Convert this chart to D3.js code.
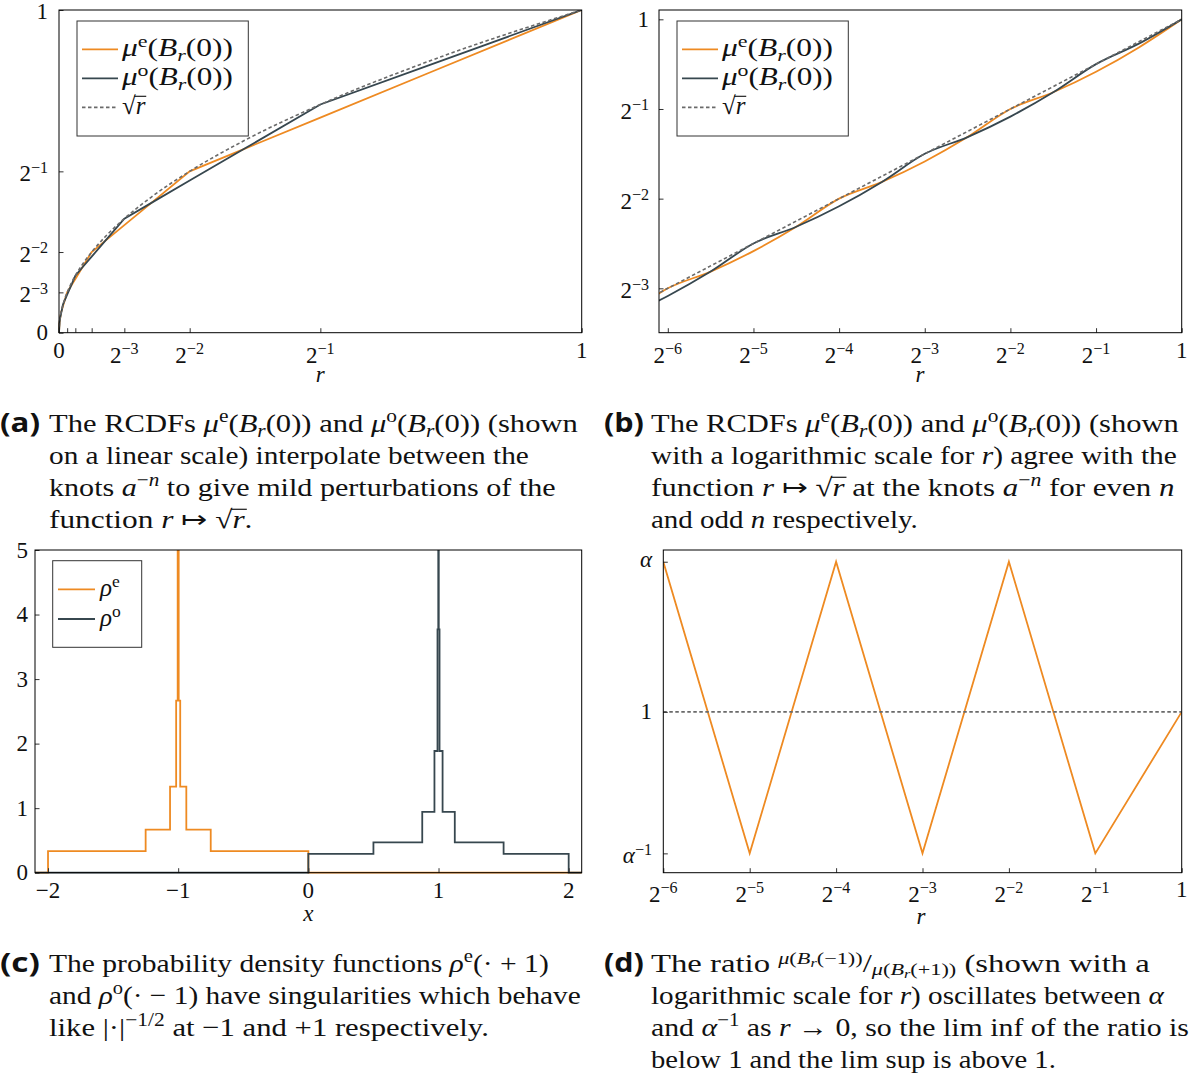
<!DOCTYPE html>
<html><head><meta charset="utf-8">
<script src="https://cdn.jsdelivr.net/npm/d3@7"></script>
<style>body{margin:0;background:#fff;}svg{display:block;}</style>
</head><body>
<svg id="fig" width="1199" height="1079"></svg>
<script>
// ---------------- DATA ----------------
const rSamples = [1, 0.707107, 0.5, 0.353553, 0.25, 0.176777, 0.125, 0.088388, 0.0625, 0.044194, 0.03125, 0.022097, 0.015625, 0.011049, 0.0078125, 0.0055243, 0.00390625, 0.001953, 0.0009766, 0];
const muE   = [1, 0.80474, 0.66667, 0.56904, 0.5, 0.40237, 0.33333, 0.28452, 0.25, 0.20118, 0.16667, 0.14226, 0.125, 0.10059, 0.083333, 0.07113, 0.0625, 0.041667, 0.03125, 0];
const muO   = [1, 0.82843, 0.70711, 0.56904, 0.47140, 0.40237, 0.35355, 0.28452, 0.23570, 0.20118, 0.17678, 0.14226, 0.11785, 0.10059, 0.088388, 0.07113, 0.058218, 0.044194, 0.029463, 0];
const sqrtR = [1, 0.840896, 0.707107, 0.594604, 0.5, 0.420448, 0.353553, 0.297302, 0.25, 0.210224, 0.176777, 0.148651, 0.125, 0.105112, 0.088388, 0.074325, 0.0625, 0.044194, 0.03125, 0];

const rhoEx = [-2.1, -2, -1.25, -1.0625, -1.015625, -1.00390625, -0.99609375, -0.984375, -0.9375, -0.75, 0, 2.1];
const rhoEy = [0, 0.33333, 0.66667, 1.33333, 2.66667, 5.33333, 2.66667, 1.33333, 0.66667, 0.33333, 0, 0];
const rhoOx = [-2.1, 0, 0.5, 0.875, 0.96875, 0.9921875, 0.998046875, 1.001953125, 1.0078125, 1.03125, 1.125, 1.5, 2, 2.1];
const rhoOy = [0, 0.29289, 0.47140, 0.94281, 1.88562, 3.77124, 7.54247, 3.77124, 1.88562, 0.94281, 0.47140, 0.29289, 0, 0];

const ratioR = [0.015625, 0.03125, 0.0625, 0.125, 0.25, 0.5, 1];
const ratioV = [1.06066, 0.94281, 1.06066, 0.94281, 1.06066, 0.94281, 1];
const ratioRef = 1;

const aXTicks = [0, 0.125, 0.25, 0.5, 1];
const aXLabels = [['0'], ['2','−3'], ['2','−2'], ['2','−1'], ['1']];
const aXMinor = [0.015625, 0.03125, 0.0625];
const aYTicks = [0, 0.125, 0.25, 0.5, 1];
const aYLabels = [['0'], ['2','−3'], ['2','−2'], ['2','−1'], ['1']];
const bXTicks = [0.015625, 0.03125, 0.0625, 0.125, 0.25, 0.5, 1];
const bXLabels = [['2','−6'], ['2','−5'], ['2','−4'], ['2','−3'], ['2','−2'], ['2','−1'], ['1']];
const bYTicks = [0.125, 0.25, 0.5, 1];
const bYLabels = [['2','−3'], ['2','−2'], ['2','−1'], ['1']];
const cXTicks = [-2, -1, 0, 1, 2];
const cXLabels = [['−2'], ['−1'], ['0'], ['1'], ['2']];
const cYTicks = [0, 1, 2, 3, 4, 5];
const cYLabels = [['0'], ['1'], ['2'], ['3'], ['4'], ['5']];
const dXTicks = bXTicks;
const dXLabels = bXLabels;
const dYTicks = [0.94281, 1, 1.06066];
const dYLabels = [['α','−1',true], ['1'], ['α',null,true]];

// ---------------- STYLE ----------------
const SERIF = "Liberation Serif, Times New Roman, serif";
const SANS = "Open Sans, DejaVu Sans, sans-serif";
const ORANGE = '#EE8A22', SLATE = '#37474F', GREY = '#6a6a6a', INK = '#111';
const LW = 1.8, TICKFS = 23, LEGFS = 25, CAPFS = 26;

const svg = d3.select('#fig');
const defs = svg.append('defs');

function addClip(name, x, y, pad) {
  const [x0, x1] = x.range(); const [y1, y0] = y.range();
  defs.append('clipPath').attr('id', name).append('rect')
    .attr('x', x0 - pad).attr('y', y0).attr('width', x1 - x0 + 2 * pad).attr('height', y1 - y0 + pad);
  return `url(#${name})`;
}

function rich(parent, x, y, parts, fs, opts = {}) {
  const g = parent.append('g');
  const t = g.append('text').attr('x', x).attr('y', y)
    .attr('font-family', opts.family || SERIF).attr('font-size', fs)
    .attr('fill', opts.fill || INK).style('white-space', 'pre');
  if (opts.weight) t.attr('font-weight', opts.weight);
  let cur = 0; const over = [];
  for (const p of parts) {
    const s = Array.isArray(p) ? p[0] : p;
    const f = Array.isArray(p) ? (p[1] || '') : '';
    let off = 0, size = fs;
    if (f.includes('^')) { off = -0.38 * fs; size = 0.7 * fs; }
    else if (f.includes('_')) { off = 0.2 * fs; size = 0.7 * fs; }
    else if (f.includes('N')) { off = -0.3 * fs; size = 0.68 * fs; }
    else if (f.includes('M')) { off = -0.18 * fs; size = 0.5 * fs; }
    else if (f.includes('D')) { off = 0.12 * fs; size = 0.68 * fs; }
    else if (f.includes('E')) { off = 0.24 * fs; size = 0.5 * fs; }
    const ts = t.append('tspan').attr('font-size', size).attr('dy', off - cur).text(s);
    cur = off;
    if (f.includes('i')) ts.attr('font-style', 'italic');
    if (f.includes('o')) over.push(ts);
  }
  const len = t.node().getComputedTextLength();
  let shift = 0;
  if (opts.anchor === 'middle') shift = -len / 2;
  else if (opts.anchor === 'end') shift = -len;
  const sx = opts.width ? opts.width / len : (opts.sx || 1);
  over.forEach(ts => {
    let bb; try { bb = ts.node().getBBox(); } catch (e) { bb = null; }
    if (bb) g.append('line').attr('x1', bb.x - 1.5).attr('x2', bb.x + bb.width + 0.5)
      .attr('y1', y - 0.72 * fs).attr('y2', y - 0.72 * fs).attr('stroke', INK).attr('stroke-width', 0.045 * fs);
  });
  g.attr('transform', `translate(${x + shift * sx},0) scale(${sx},1) translate(${-x},0)`);
  return { g, len };
}

function tickLabel(parent, x, y, spec, anchor) {
  const parts = [[spec[0], spec[2] ? 'i' : '']];
  if (spec[1]) parts.push([spec[1], '^']);
  return rich(parent, x, y, parts, TICKFS, { anchor });
}

function axesFrame(g, x, y, xt, yt, xMinor) {
  const [x0, x1] = x.range(); const [y1, y0] = y.range();
  const style = s => { s.select('.domain').remove(); s.selectAll('line').attr('stroke', '#333').attr('stroke-width', 1); };
  g.append('g').attr('transform', `translate(0,${y1})`)
    .call(d3.axisBottom(x).tickValues(xt.concat(xMinor || [])).tickSize(-4.5).tickFormat(() => '')).call(style);
  g.append('g').attr('transform', `translate(${x0},0)`)
    .call(d3.axisLeft(y).tickValues(yt).tickSize(-4.5).tickFormat(() => '')).call(style);
  g.append('rect').attr('x', x0).attr('y', y0).attr('width', x1 - x0).attr('height', y1 - y0)
    .attr('fill', 'none').attr('stroke', '#000').attr('stroke-width', 1);
}

function legend(g, box, rows, lx0, lx1, tx, fs) {
  g.append('rect').attr('x', box[0]).attr('y', box[1]).attr('width', box[2] - box[0]).attr('height', box[3] - box[1])
    .attr('fill', '#fff').attr('stroke', '#333').attr('stroke-width', 1);
  rows.forEach(rw => {
    const l = g.append('line').attr('x1', lx0).attr('x2', lx1).attr('y1', rw.y).attr('y2', rw.y)
      .attr('stroke', rw.color).attr('stroke-width', LW);
    if (rw.dash) l.attr('stroke-dasharray', rw.dash);
    rich(g, tx, rw.y + 7, rw.parts, fs, rw.w ? { width: rw.w } : {});
  });
}

const muEtxt = [['μ', 'i'], ['e', '^'], '(', ['B', 'i'], ['r', 'i_'], '(0))'];
const muOtxt = [['μ', 'i'], ['o', '^'], '(', ['B', 'i'], ['r', 'i_'], '(0))'];
const sqrtTxt = ['√', ['r', 'io']];
const DASH = '3.5,2.5';

// ---------------- PANEL A ----------------
{
  const x = d3.scaleLinear().domain([0, 1]).range([59, 581.7]);
  const y = d3.scaleLinear().domain([0, 1]).range([332.7, 10]);
  const g = svg.append('g');
  const clip = addClip('clipA', x, y, 2);
  const pts = rSamples.map((r, i) => ({ r, e: muE[i], o: muO[i], s: sqrtR[i] })).sort((a, b) => a.r - b.r);
  const lg = g.append('g').attr('clip-path', clip);
  lg.append('path').datum(pts).attr('d', d3.line().x(d => x(d.r)).y(d => y(d.e))).attr('fill', 'none').attr('stroke', ORANGE).attr('stroke-width', LW);
  lg.append('path').datum(pts).attr('d', d3.line().x(d => x(d.r)).y(d => y(d.o))).attr('fill', 'none').attr('stroke', SLATE).attr('stroke-width', LW);
  lg.append('path').datum(pts).attr('d', d3.line().curve(d3.curveMonotoneX).x(d => x(d.r)).y(d => y(d.s))).attr('fill', 'none').attr('stroke', GREY).attr('stroke-width', 1.6).attr('stroke-dasharray', DASH);
  axesFrame(g, x, y, aXTicks, aYTicks, aXMinor);
  aXTicks.forEach((v, i) => tickLabel(g, x(v), aXLabels[i][1] ? 363 : 358, aXLabels[i], 'middle'));
  aYTicks.forEach((v, i) => tickLabel(g, 48, Math.max(y(v) + (aYLabels[i][1] ? 10 : 7.5), 19), aYLabels[i], 'end'));
  rich(g, x(0.5), 382, [['r', 'i']], TICKFS, { anchor: 'middle' });
  legend(g, [77, 21, 248.3, 136], [
    { y: 49.3, color: ORANGE, parts: muEtxt, w: 111 },
    { y: 78.3, color: SLATE, parts: muOtxt, w: 111 },
    { y: 107.3, color: GREY, dash: DASH, parts: sqrtTxt }
  ], 82, 118, 122, LEGFS);
}

// ---------------- PANEL B ----------------
{
  const x = d3.scaleLog().base(2).domain([0.01455, 1]).range([659, 1181.7]);
  const y = d3.scaleLog().base(2).domain([0.0887, 1.0747]).range([332.7, 10]);
  const g = svg.append('g');
  const clip = addClip('clipB', x, y, 0);
  const pts = rSamples.map((r, i) => ({ r, e: muE[i], o: muO[i], s: sqrtR[i] })).filter(d => d.r > 0).sort((a, b) => a.r - b.r);
  const lg = g.append('g').attr('clip-path', clip);
  lg.append('path').datum(pts).attr('d', d3.line().curve(d3.curveMonotoneX).x(d => x(d.r)).y(d => y(d.e))).attr('fill', 'none').attr('stroke', ORANGE).attr('stroke-width', LW);
  lg.append('path').datum(pts).attr('d', d3.line().curve(d3.curveMonotoneX).x(d => x(d.r)).y(d => y(d.o))).attr('fill', 'none').attr('stroke', SLATE).attr('stroke-width', LW);
  lg.append('path').datum(pts).attr('d', d3.line().x(d => x(d.r)).y(d => y(d.s))).attr('fill', 'none').attr('stroke', GREY).attr('stroke-width', 1.6).attr('stroke-dasharray', DASH);
  axesFrame(g, x, y, bXTicks, bYTicks);
  bXTicks.forEach((v, i) => tickLabel(g, x(v), bXLabels[i][1] ? 363 : 358, bXLabels[i], 'middle'));
  bYTicks.forEach((v, i) => tickLabel(g, 649, y(v) + (bYLabels[i][1] ? 10 : 7.5), bYLabels[i], 'end'));
  rich(g, 920, 382, [['r', 'i']], TICKFS, { anchor: 'middle' });
  legend(g, [677, 21, 848.3, 136], [
    { y: 49.3, color: ORANGE, parts: muEtxt, w: 111 },
    { y: 78.3, color: SLATE, parts: muOtxt, w: 111 },
    { y: 107.3, color: GREY, dash: DASH, parts: sqrtTxt }
  ], 682, 718, 722, LEGFS);
}

// ---------------- PANEL C ----------------
{
  const x = d3.scaleLinear().domain([-2.1, 2.1]).range([35, 581.7]);
  const y = d3.scaleLinear().domain([0, 5]).range([872.7, 550]);
  const g = svg.append('g');
  const clip = addClip('clipC', x, y, 2);
  const lg = g.append('g').attr('clip-path', clip);
  const eP = rhoEx.map((v, i) => [v, rhoEy[i]]);
  const oP = rhoOx.map((v, i) => [v, rhoOy[i]]);
  const line = d3.line().curve(d3.curveStepAfter).x(d => x(d[0])).y(d => y(d[1]));
  lg.append('path').datum(eP).attr('d', line).attr('fill', 'none').attr('stroke', ORANGE).attr('stroke-width', LW);
  lg.append('path').datum(oP).attr('d', line).attr('fill', 'none').attr('stroke', SLATE).attr('stroke-width', LW);
  axesFrame(g, x, y, cXTicks, cYTicks);
  cXTicks.forEach((v, i) => tickLabel(g, x(v), 898, cXLabels[i], 'middle'));
  cYTicks.forEach((v, i) => tickLabel(g, 28, y(v) + 7.5, cYLabels[i], 'end'));
  rich(g, x(0), 921, [['x', 'i']], TICKFS, { anchor: 'middle' });
  legend(g, [52.7, 560.7, 141.7, 647.3], [
    { y: 589.3, color: ORANGE, parts: [['ρ', 'i'], ['e', '^']] },
    { y: 619, color: SLATE, parts: [['ρ', 'i'], ['o', '^']] }
  ], 58, 95, 100, LEGFS);
}

// ---------------- PANEL D ----------------
{
  const x = d3.scaleLog().base(2).domain([0.015625, 1]).range([663.3, 1181.7]);
  const y = d3.scaleLinear().domain([0.935, 1.0654]).range([872.7, 550]);
  const g = svg.append('g');
  const clip = addClip('clipD', x, y, 0);
  const lg = g.append('g').attr('clip-path', clip);
  const pts = ratioR.map((r, i) => [r, ratioV[i]]);
  lg.append('path').datum(pts).attr('d', d3.line().x(d => x(d[0])).y(d => y(d[1]))).attr('fill', 'none').attr('stroke', ORANGE).attr('stroke-width', LW);
  lg.append('path').datum(x.domain()).attr('d', d3.line().x(d => x(d)).y(() => y(ratioRef))).attr('fill', 'none').attr('stroke', GREY).attr('stroke-width', 1.6).attr('stroke-dasharray', DASH);
  axesFrame(g, x, y, dXTicks, dYTicks);
  dXTicks.forEach((v, i) => tickLabel(g, x(v), dXLabels[i][1] ? 902 : 897, dXLabels[i], 'middle'));
  dYTicks.forEach((v, i) => tickLabel(g, 652, y(v) + (dYLabels[i][1] ? 10 : (dYLabels[i][2] ? 5.5 : 7.5)), dYLabels[i], 'end'));
  rich(g, 921, 924, [['r', 'i']], TICKFS, { anchor: 'middle' });
}

// ---------------- CAPTIONS ----------------
const capA = [
  ['The RCDFs ', ...muEtxt, ' and ', ...muOtxt, ' (shown'],
  ['on a linear scale) interpolate between the'],
  ['knots ', ['a', 'i'], ['−', '^'], ['n', 'i^'], ' to give mild perturbations of the'],
  ['function ', ['r', 'i'], ' ↦ ', '√', ['r', 'io'], '.']
];
const capB = [
  ['The RCDFs ', ...muEtxt, ' and ', ...muOtxt, ' (shown'],
  ['with a logarithmic scale for ', ['r', 'i'], ') agree with the'],
  ['function ', ['r', 'i'], ' ↦ ', '√', ['r', 'io'], ' at the knots ', ['a', 'i'], ['−', '^'], ['n', 'i^'], ' for even ', ['n', 'i']],
  ['and odd ', ['n', 'i'], ' respectively.']
];
const capC = [
  ['The probability density functions ', ['ρ', 'i'], ['e', '^'], '(· + 1)'],
  ['and ', ['ρ', 'i'], ['o', '^'], '(· − 1) have singularities which behave'],
  ['like |·|', ['−1/2', '^'], ' at −1 and +1 respectively.']
];
const capD = [
  ['The ratio ', ['μ', 'iN'], ['(', 'N'], ['B', 'iN'], ['r', 'iM'], ['(−1))', 'N'], '/', ['μ', 'iD'], ['(', 'D'], ['B', 'iD'], ['r', 'iE'], ['(+1))', 'D'], ' (shown with a'],
  ['logarithmic scale for ', ['r', 'i'], ') oscillates between ', ['α', 'i']],
  ['and ', ['α', 'i'], ['−1', '^'], ' as ', ['r', 'i'], ' → 0, so the lim inf of the ratio is'],
  ['below 1 and the lim sup is above 1.']
];
const captions = [
  { tag: '(a)', lx: 0, tx: 49, y0: 432, lines: capA, widths: [529, 480, 507, 204] },
  { tag: '(b)', lx: 604, tx: 651, y0: 432, lines: capB, widths: [528, 526, 524, 267] },
  { tag: '(c)', lx: 0, tx: 49, y0: 972, lines: capC, widths: [500, 532, 440] },
  { tag: '(d)', lx: 604, tx: 651, y0: 972, lines: capD, widths: [499, 513, 538, 405] }
];
const cg = svg.append('g');
captions.forEach(c => {
  rich(cg, c.lx, c.y0, [c.tag], CAPFS, { family: SANS, weight: 'bold', width: 40 });
  c.lines.forEach((ln, i) => rich(cg, c.tx, c.y0 + 32 * i, ln, CAPFS, { width: c.widths[i] }));
});
</script>
</body></html>
